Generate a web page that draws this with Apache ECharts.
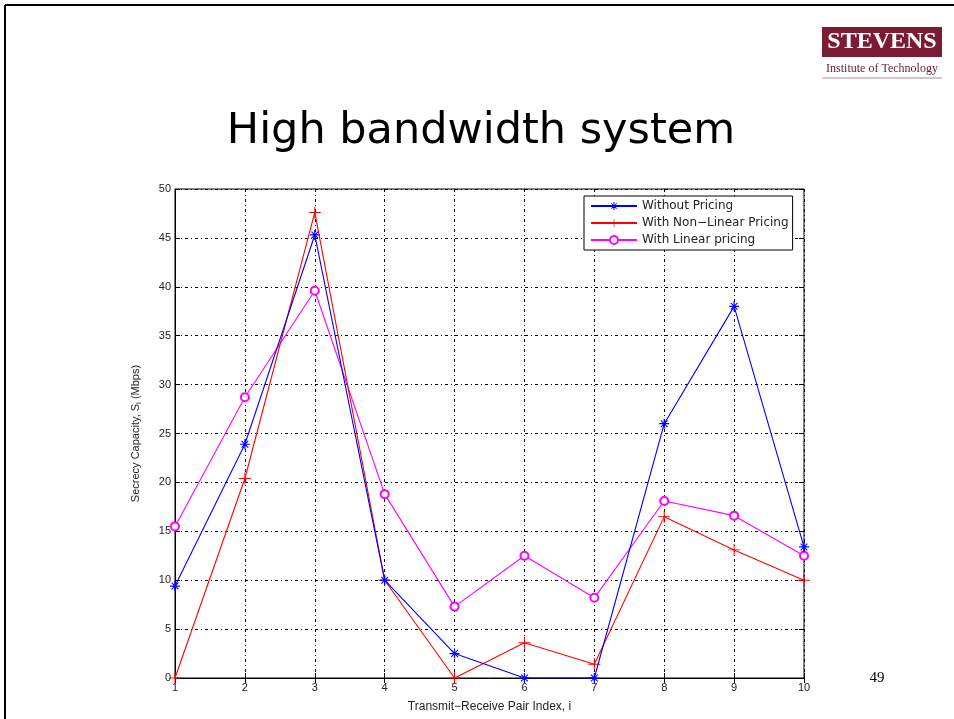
<!DOCTYPE html>
<html><head><meta charset="utf-8">
<script src="https://cdn.jsdelivr.net/npm/echarts@6/dist/echarts.min.js"></script>
<style>html,body{margin:0;padding:0;background:#fff}#c{width:954px;height:719px}</style>
</head><body><div id="c"></div>
<script>
const pairIndex = [1,2,3,4,5,6,7,8,9,10];
const withoutPricing = [9.4,23.9,45.3,10.0,2.5,0,0,26.0,38.0,13.4];
const nonLinearPricing = [0,20.4,47.6,10.0,0,3.6,1.4,16.5,13.1,10.0];
const linearPricing = [15.5,28.7,39.6,18.8,7.3,12.5,8.2,18.1,16.6,12.5];
const seriesNames = ['Without Pricing','With Non\u2212Linear Pricing','With Linear pricing'];
const yTicks = {min:0,max:50,interval:5};
const xTicks = {min:1,max:10,interval:1};

const plusPath = 'path://M-0.08,-1 L0.08,-1 L0.08,-0.08 L1,-0.08 L1,0.08 L0.08,0.08 L0.08,1 L-0.08,1 L-0.08,0.08 L-1,0.08 L-1,-0.08 L-0.08,-0.08 Z';
const starPath = 'path://M-0.12,-1 L0.12,-1 L0.12,-0.12 L1,-0.12 L1,0.12 L0.12,0.12 L0.12,1 L-0.12,1 L-0.12,0.12 L-1,0.12 L-1,-0.12 L-0.12,-0.12 Z M-0.75,-0.6 L-0.6,-0.75 L0.75,0.6 L0.6,0.75 Z M0.6,-0.75 L0.75,-0.6 L-0.6,0.75 L-0.75,0.6 Z';

const zip = a => pairIndex.map((x,i)=>[x,a[i]]);
const chart = echarts.init(document.getElementById('c'));
const gridLine = {show:true,lineStyle:{color:'#000',width:1,type:[3,3,1,3]}};
const tickStyle = {show:true,inside:true,length:5,lineStyle:{color:'#000'}};
chart.setOption({
  animation:false,
  backgroundColor:'#fff',
  grid:{left:175,right:150,top:189,bottom:41,show:true,borderColor:'#000',borderWidth:1},
  legend:{
    orient:'vertical',left:584,top:196,
    backgroundColor:'#fff',borderColor:'#000',borderWidth:1,
    padding:[4,4,4,6],itemGap:5,itemWidth:46,itemHeight:10,
    textStyle:{fontFamily:'DejaVu Sans',fontSize:12,color:'#222'},
    data:seriesNames
  },
  xAxis:[{
    type:'value',min:xTicks.min,max:xTicks.max,interval:xTicks.interval,
    axisLine:{show:true,lineStyle:{color:'#000'}},
    axisTick:tickStyle,splitLine:gridLine,
    axisLabel:{color:'#222',fontFamily:'Liberation Sans',fontSize:11,margin:4},
    name:'Transmit\u2212Receive Pair Index, i',nameLocation:'middle',nameGap:23,
    nameTextStyle:{color:'#222',fontFamily:'Liberation Sans',fontSize:12}
  },{
    type:'value',position:'top',min:xTicks.min,max:xTicks.max,interval:xTicks.interval,
    axisLine:{show:false},axisTick:tickStyle,axisLabel:{show:false},splitLine:{show:false}
  }],
  yAxis:[{
    type:'value',min:yTicks.min,max:yTicks.max,interval:yTicks.interval,
    axisLine:{show:true,lineStyle:{color:'#000'}},
    axisTick:tickStyle,splitLine:gridLine,
    axisLabel:{color:'#222',fontFamily:'Liberation Sans',fontSize:11,margin:4},
    name:'{a|Secrecy Capacity, S}{s|i}{a| (Mbps)}',nameLocation:'middle',nameGap:32,
    nameTextStyle:{rich:{a:{color:'#222',fontFamily:'Liberation Sans',fontSize:11},s:{color:'#222',fontFamily:'Liberation Sans',fontSize:8,verticalAlign:'bottom',padding:[6,0,0,0]}}}
  },{
    type:'value',position:'right',min:yTicks.min,max:yTicks.max,interval:yTicks.interval,
    axisLine:{show:false},axisTick:tickStyle,axisLabel:{show:false},splitLine:{show:false}
  }],
  series:[
    {name:seriesNames[0],type:'line',data:zip(withoutPricing),symbol:starPath,symbolSize:10,
     lineStyle:{color:'#0000ff',width:1.1},itemStyle:{color:'#0000ff'},z:3},
    {name:seriesNames[1],type:'line',data:zip(nonLinearPricing),symbol:plusPath,symbolSize:12,
     lineStyle:{color:'#ff0000',width:1.1},itemStyle:{color:'#ff0000'},z:2},
    {name:seriesNames[2],type:'line',data:zip(linearPricing),symbol:'emptyCircle',symbolSize:8,
     lineStyle:{color:'#ff00ff',width:1.1},itemStyle:{color:'#ff00ff',borderColor:'#ff00ff',borderWidth:1}, z:1}
  ],
  graphic:[
    {type:'line',shape:{x1:5,y1:5,x2:954,y2:5},style:{stroke:'#000',lineWidth:2}},
    {type:'line',shape:{x1:5,y1:5,x2:5,y2:719},style:{stroke:'#000',lineWidth:2}},
    {type:'text',x:481,y:132,style:{text:'High bandwidth system',font:'43px "DejaVu Sans"',fill:'#000',align:'center',verticalAlign:'middle'}},
    {type:'rect',shape:{x:822,y:27,width:120,height:30},style:{fill:'#7b1c34'}},
    {type:'text',x:882,y:42,style:{text:'STEVENS',font:'bold 24px "Liberation Serif"',fill:'#fff',align:'center',verticalAlign:'middle'}},
    {type:'text',x:882,y:69,style:{text:'Institute of Technology',font:'12px "Liberation Serif"',fill:'#6e1a30',align:'center',verticalAlign:'middle'}},
    {type:'line',shape:{x1:822,y1:78,x2:942,y2:78},style:{stroke:'#b08a94',lineWidth:1}},
    {type:'text',x:877,y:678,style:{text:'49',font:'15px "Liberation Serif"',fill:'#000',align:'center',verticalAlign:'middle'}}
  ]
});
</script></body></html>
